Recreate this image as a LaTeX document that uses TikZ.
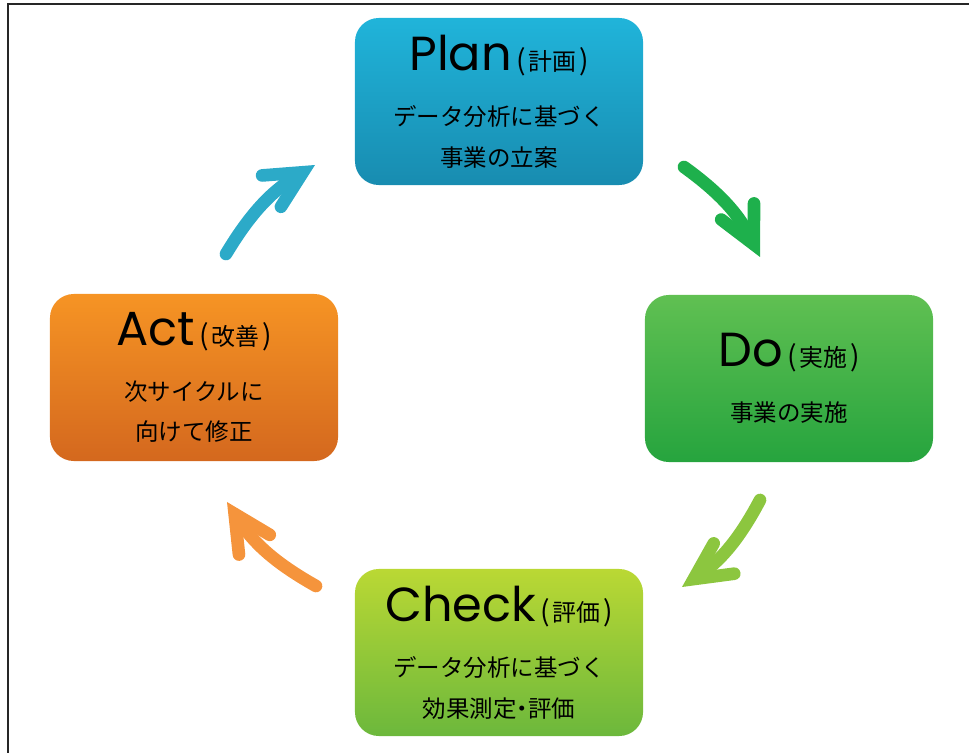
\documentclass[tikz,border=0pt]{standalone}
\usepackage{fontspec}
\setmainfont{Noto Sans CJK JP}
\newfontfamily\titlefont{Poppins}
\usetikzlibrary{arrows.meta}

\definecolor{planTop}{RGB}{32,180,218}
\definecolor{planBot}{RGB}{24,140,176}
\definecolor{doTop}{RGB}{96,192,82}
\definecolor{doBot}{RGB}{38,164,62}
\definecolor{checkTop}{RGB}{186,216,52}
\definecolor{checkBot}{RGB}{108,184,60}
\definecolor{actTop}{RGB}{246,148,36}
\definecolor{actBot}{RGB}{212,104,30}
\definecolor{arrPD}{RGB}{30,176,76}
\definecolor{arrDC}{RGB}{140,198,63}
\definecolor{arrCA}{RGB}{245,148,60}
\definecolor{arrAP}{RGB}{44,170,200}

\newcommand{\boxtitle}[2]{{\fontsize{34}{36}\selectfont\titlefont #1}%
  {\fontsize{20}{22}\selectfont\kern3pt(\kern2pt{\fontsize{17}{20}\selectfont #2}\kern2pt)}}

\tikzset{
  cyclebox/.style={rounded corners=17pt, minimum width=7.2cm, minimum height=4.175cm,
    inner sep=0pt, align=center, font=\fontsize{16.7}{29}\selectfont},
  cyclearrow/.style={line width=9pt, line cap=round,
    -{Straight Barb[length=26pt, width=26pt, line cap=round, line join=miter]}}
}

\begin{document}
\begin{tikzpicture}[x=0.025cm, y=-0.025cm]
  \useasboundingbox (0,0) rectangle (969,753);
  % frame
  \draw[line width=1.8pt, black!85] (8,753) -- (8,4) -- (969,4);

  % the four stages
  \node[cyclebox, top color=planTop, bottom color=planBot] (plan) at (499,101.5)
    {\boxtitle{Plan}{計画}\\[10pt] データ分析に基づく\\ 事業の立案};
  \node[cyclebox, top color=doTop, bottom color=doBot] (do) at (789,378.5)
    {\boxtitle{Do}{実施}\\[10pt] 事業の実施};
  \node[cyclebox, top color=checkTop, bottom color=checkBot] (check) at (499,652.5)
    {\boxtitle{Check}{評価}\\[10pt] データ分析に基づく\\ 効果測定\kern-.25em・\kern-.25em評価};
  \node[cyclebox, top color=actTop, bottom color=actBot] (act) at (194,377.5)
    {\boxtitle{Act}{改善}\\[10pt] 次サイクルに\\ 向けて修正};

  % arrow ends
  \coordinate (pdtail) at (684,167);
  \coordinate (pdtip) at (760,257);
  \coordinate (dctail) at (760,500);
  \coordinate (dctip) at (682,587);
  \coordinate (catail) at (316,586);
  \coordinate (catip) at (227,502);
  \coordinate (aptail) at (226,254);
  \coordinate (aptip) at (315,165);

  \draw[cyclearrow, arrPD] (pdtail) to[bend left=14] (pdtip);
  \draw[cyclearrow, arrDC] (dctail) to[bend left=14] (dctip);
  \draw[cyclearrow, arrCA] (catail) to[bend left=14] (catip);
  \draw[cyclearrow, arrAP] (aptail) to[bend left=14] (aptip);
\end{tikzpicture}
\end{document}
